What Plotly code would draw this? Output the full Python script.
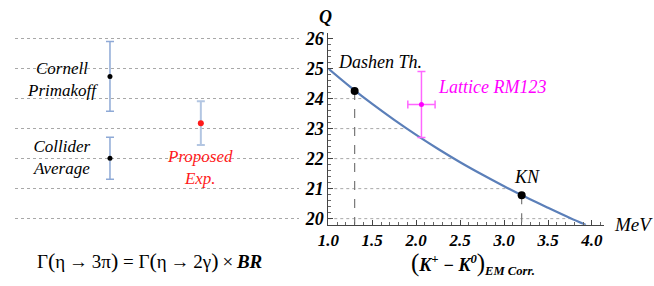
import numpy as np
import plotly.graph_objects as go

# ---------------- data ----------------
curve_x = [1.0, 1.25, 1.5, 1.75, 2.0, 2.25, 2.5, 2.75, 3.0, 3.25, 3.5, 3.75, 3.93]
curve_q = [25.0, 24.39, 23.82, 23.29, 22.79, 22.32, 21.88, 21.47, 21.08, 20.71, 20.36, 20.02, 19.79]

grid_q_right = [20, 21, 22, 23, 24]
grid_q_left = [20, 21, 22, 23, 24, 25, 26]

theory_names = ["Dashen Th.", "KN"]
theory_x = [1.3, 3.2]
theory_q = [24.25, 20.78]

lattice_name = "Lattice RM123"
lattice_x = [2.06]
lattice_q = [23.8]
lattice_xerr = [0.155]
lattice_qerr = [1.1]

left_names = ["Cornell<br>Primakoff", "Collider<br>Average", "Proposed<br>Exp."]
left_x = [1, 1, 2]
left_val = [24.74, 22.01, 23.18]
left_err = [1.16, 0.70, 0.73]

x_ticks = [1.0, 1.5, 2.0, 2.5, 3.0, 3.5, 4.0]
q_ticks = [20, 21, 22, 23, 24, 25, 26]

FONT = "Liberation Serif, Times New Roman, DejaVu Serif, serif"
CURVE_COLOR = "#5b7fb9"
GRID_COLOR = "#a8a8a8"

fig = go.Figure()

# ---------------- left panel ----------------
for i in range(3):
    is_prop = i == 2
    fig.add_trace(go.Scatter(
        x=[left_x[i]], y=[left_val[i]], mode="markers",
        marker=dict(color="#ff1a1a" if is_prop else "black", size=6 if is_prop else 5),
        error_y=dict(type="data", array=[left_err[i]], visible=True,
                     color="#b3c6e2" if is_prop else "#8ea9d6",
                     thickness=2 if is_prop else 1.5, width=4),
        xaxis="x", yaxis="y", showlegend=False, hoverinfo="skip"))

# ---------------- right panel ----------------
cq_rev = np.array(curve_q)[::-1]
cx_rev = np.array(curve_x)[::-1]
for q in grid_q_right:
    xe = float(np.interp(q, cq_rev, cx_rev))
    fig.add_trace(go.Scatter(
        x=[x_ticks[0], xe], y=[q, q], mode="lines",
        line=dict(color=GRID_COLOR, width=1, dash="dot"),
        xaxis="x2", yaxis="y2", showlegend=False, hoverinfo="skip"))

for xv, qv in zip(theory_x, theory_q):
    fig.add_trace(go.Scatter(
        x=[xv, xv], y=[qv, 19.8], mode="lines",
        line=dict(color="#777777", width=1.2, dash="dash"),
        xaxis="x2", yaxis="y2", showlegend=False, hoverinfo="skip"))

fig.add_trace(go.Scatter(
    x=curve_x, y=curve_q, mode="lines", line=dict(color=CURVE_COLOR, width=2.2, shape="spline"),
    xaxis="x2", yaxis="y2", showlegend=False, hoverinfo="skip"))

fig.add_trace(go.Scatter(
    x=theory_x, y=theory_q, mode="markers", marker=dict(color="black", size=8),
    xaxis="x2", yaxis="y2", showlegend=False, hoverinfo="skip"))

fig.add_trace(go.Scatter(
    x=lattice_x, y=lattice_q, mode="markers", marker=dict(color="#ff00ff", size=5),
    error_y=dict(type="data", array=lattice_qerr, color="#ff66ff", thickness=1.5, width=4),
    error_x=dict(type="data", array=lattice_xerr, color="#ff66ff", thickness=1.5, width=4),
    xaxis="x2", yaxis="y2", showlegend=False, hoverinfo="skip"))

# ---------------- annotations ----------------
def pa(text, px, py, size, color="black", xanchor="center", **kw):
    return dict(text=text, x=px / 654, y=1 - py / 286, xref="paper", yref="paper",
                showarrow=False, xanchor=xanchor, yanchor="middle", align="center",
                font=dict(family=FONT, size=size, color=color), **kw)

T = "\u2009"
annotations = [
    pa("<i>" + left_names[0] + "</i>", 52, 78, 17),
    pa("<i>" + left_names[1] + "</i>", 52, 158, 17),
    pa("<i>" + left_names[2] + "</i>", 192, 168, 17, color="#ff1a1a"),
    pa("<i>" + theory_names[0] + "</i>", 375, 60, 18),
    pa("<i>" + theory_names[1] + "</i>", 525, 178, 18),
    pa("<i>" + lattice_name + "</i>", 432, 85, 18, color="#ff00ff", xanchor="left"),
    pa("<b><i>Q</i></b>", 320, 13, 18),
    pa("<i>MeV</i>", 611, 227, 19, xanchor="left"),
    pa('<span style="font-size:25px">(</span><b><i>K<sup>+</sup> \u2212 K<sup>0</sup></i></b>'
       '<span style="font-size:25px">)</span><sub><b><i>EM Corr.</i></b></sub>', 470, 267, 18),
    pa('\u0393<span style="font-size:22px">(</span>\u03b7' + T + '\u2192' + T + '3\u03c0'
       '<span style="font-size:22px">)</span> = \u0393<span style="font-size:22px">(</span>'
       '\u03b7' + T + '\u2192' + T + '2\u03b3<span style="font-size:22px">)</span>' + T + '\u00d7' + T +
       '<b><i>BR</i></b>', 141, 264, 19),
]

ydom = [(286 - 227) / 286, (286 - 30) / 286]
yrange = [19.8, 26.18]

fig.update_layout(
    width=654, height=286, margin=dict(l=0, r=0, t=0, b=0),
    paper_bgcolor="white", plot_bgcolor="rgba(0,0,0,0)",
    annotations=annotations,
    xaxis=dict(domain=[4 / 654, 293 / 654], range=[1 - 98 / 93.7, 1 + 195 / 93.7],
               showgrid=False, zeroline=False, showticklabels=False, showline=False, fixedrange=True),
    yaxis=dict(domain=ydom, range=yrange, anchor="x", tickvals=grid_q_left, showgrid=True,
               gridcolor=GRID_COLOR, griddash="dot", gridwidth=1, zeroline=False,
               showticklabels=False, showline=False),
    xaxis2=dict(domain=[322.7 / 654, 603 / 654], range=[1.0, 4.135], anchor="y2",
                showline=True, linecolor="#444", linewidth=1, ticks="inside", ticklen=5,
                tickcolor="#444", tickvals=x_ticks, ticktext=["%.1f" % v for v in x_ticks],
                minor=dict(dtick=0.1, ticks="inside", ticklen=3, tickcolor="#666"),
                tickfont=dict(family=FONT, size=17, weight="bold", style="italic", color="black"),
                showgrid=False, zeroline=False),
    yaxis2=dict(domain=ydom, range=yrange, anchor="x2",
                showline=True, linecolor="#444", linewidth=1, ticks="inside", ticklen=5,
                tickcolor="#444", tickvals=q_ticks,
                minor=dict(dtick=0.2, ticks="inside", ticklen=3, tickcolor="#666"),
                tickfont=dict(family=FONT, size=18, weight="bold", style="italic", color="black"),
                showgrid=False, zeroline=False),
)

fig.write_html("out.html", config={"displayModeBar": False},
               post_script="document.body.style.margin='0';")
